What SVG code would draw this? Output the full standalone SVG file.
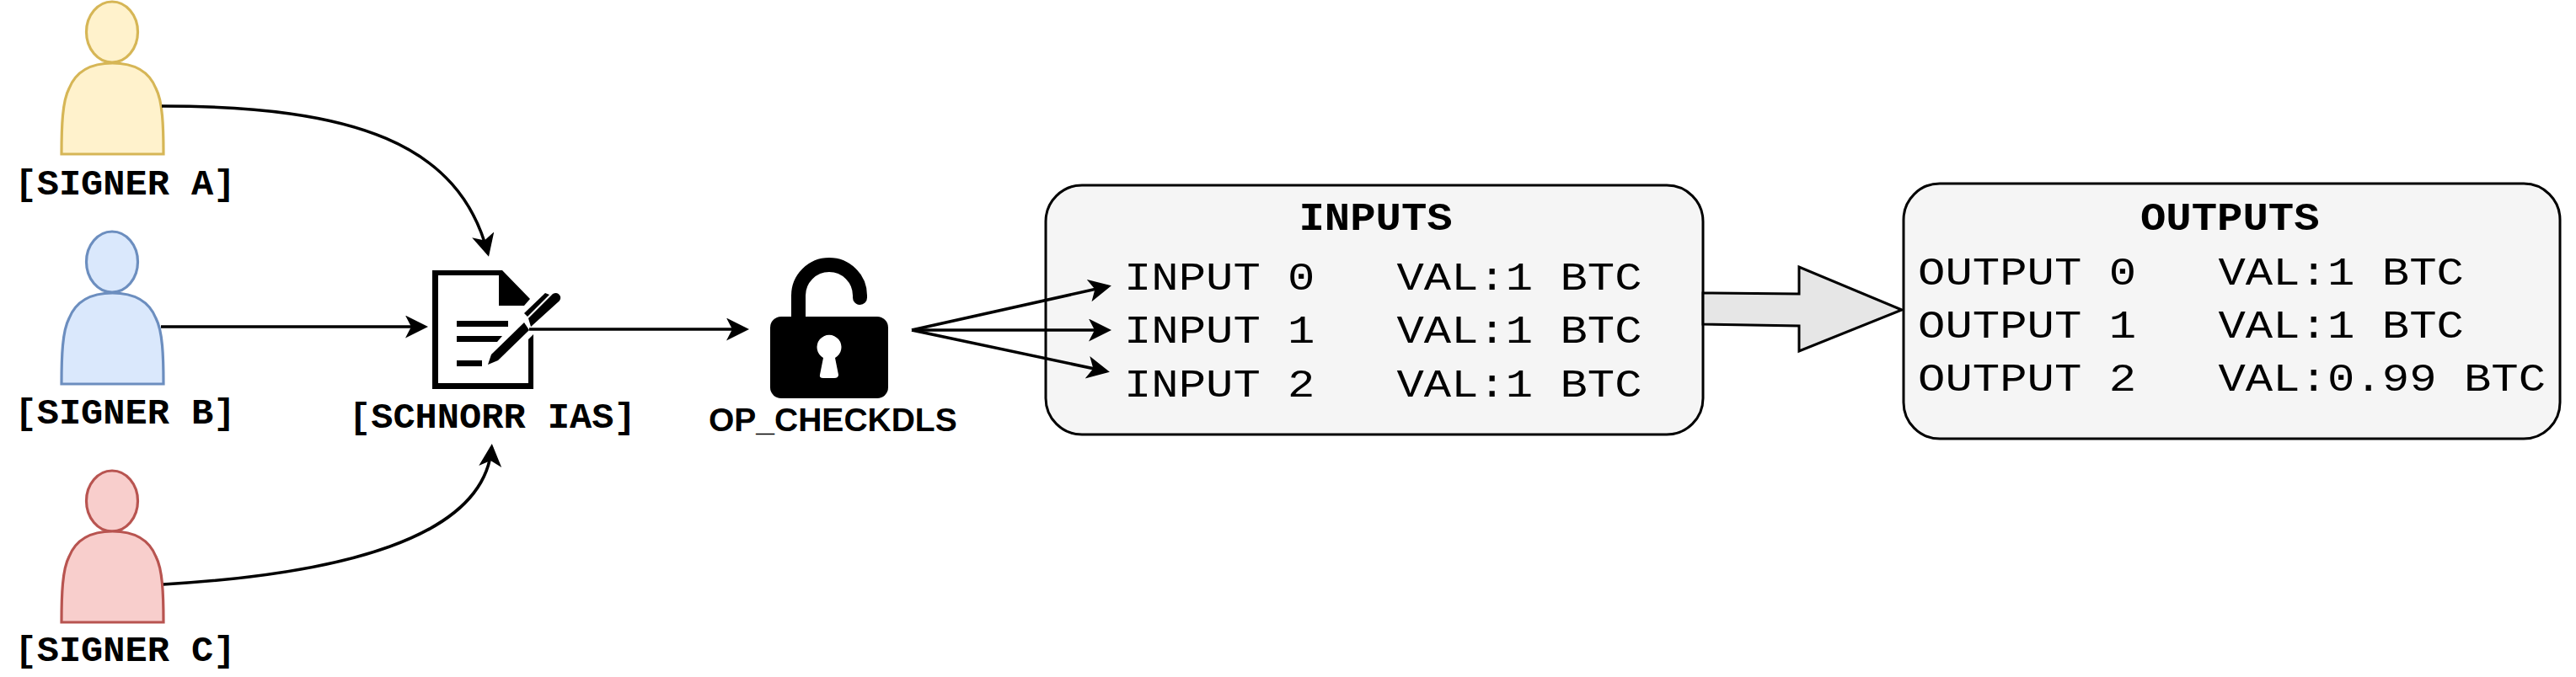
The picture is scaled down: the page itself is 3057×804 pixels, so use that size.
<svg xmlns="http://www.w3.org/2000/svg" width="3057" height="804" viewBox="0 0 3057 804">
<style>
text{fill:#000;white-space:pre}
.b{font-family:"Liberation Mono","Courier New",monospace;font-weight:700;font-size:42px}
.t{font-family:"Liberation Mono","Courier New",monospace;font-weight:700;font-size:46px}
.m{font-family:"Liberation Mono","Courier New",monospace;font-size:47px}
.s{font-family:"Liberation Sans",Arial,sans-serif;font-weight:700;font-size:39px}
.box{fill:#f5f5f5;stroke:#000;stroke-width:3}
.c{fill:none;stroke:#000;stroke-width:3.5;marker-end:url(#ah)}
.p{stroke-width:3.2}
.y{fill:#fff2cc;stroke:#d6b656}
.bl{fill:#dae8fc;stroke:#6c8ebf}
.r{fill:#f8cecc;stroke:#b85450}
</style>
<defs>
<marker id="ah" markerUnits="userSpaceOnUse" markerWidth="30" markerHeight="30" refX="23" refY="13.5" orient="auto">
<path d="M0 0L27 13.5L0 27L7 13.5Z" fill="#000"/>
</marker>
<path id="body" d="M0 108C0 75 1 45 9 30C17 10 35 0 60.500 0C86 0 104 10 112 30C120 45 121 75 121 108Z"/>
</defs>
<g id="signer-a">
<ellipse class="p y" cx="133" cy="38" rx="30.500" ry="36"/>
<use href="#body" class="p y" x="73" y="75"/>
<text class="b" transform="translate(17.500 231) scale(1.04 1)">[SIGNER A]</text>
</g>
<g id="signer-b">
<ellipse class="p bl" cx="133" cy="311" rx="30.500" ry="36"/>
<use href="#body" class="p bl" x="73" y="348"/>
<text class="b" transform="translate(17.500 503) scale(1.04 1)">[SIGNER B]</text>
</g>
<g id="signer-c">
<ellipse class="p r" cx="133" cy="595" rx="30.500" ry="36"/>
<use href="#body" class="p r" x="73" y="631"/>
<text class="b" transform="translate(17.500 785) scale(1.04 1)">[SIGNER C]</text>
</g>
<g id="schnorr">
<path d="M516 324H596L630 358V459H516Z" fill="#fff" stroke="none"/>
<path d="M513 321H596L629 355L622 363H592V327H520V455H627V403L633 397V462H513Z" fill="#000"/>
<path d="M542 381H603V388H542ZM542 399H596L590 406H542ZM542 428H572V435H542Z" fill="#000"/>
<path d="M579 433L583 421L622 383L628 392L591 428Z" fill="#000"/>
<path d="M627 378L656 349Q662 346 665 352Q666 356 662 359L630 388Z" fill="#000"/>
<path d="M622 372L647 348L652 350L626 376Z" fill="#000"/>
<text class="b" transform="translate(414 508) scale(1.04 1)">[SCHNORR IAS]</text>
</g>
<g id="op-checkdls">
<path d="M947.500 380V351A36.500 36.500 0 0 1 1020.500 351V353.500" fill="none" stroke="#000" stroke-width="17" stroke-linecap="round"/>
<rect x="914" y="376" width="140" height="97" rx="13" fill="#000"/>
<path d="M977 425A14.500 14.500 0 1 1 991 425L995 445Q995 449 990 449H977Q972 449 973 445Z" fill="#fff"/>
<text class="s" x="841" y="512">OP_CHECKDLS</text>
</g>
<g id="inputs">
<rect class="box" x="1241" y="220" width="780" height="296" rx="43" ry="43"/>
<text class="t" transform="translate(1541.500 273) scale(1.1 1)">INPUTS</text>
<text class="m" transform="translate(1334 344) scale(1.147 1)">INPUT 0   VAL:1 BTC</text>
<text class="m" transform="translate(1334 407) scale(1.147 1)">INPUT 1   VAL:1 BTC</text>
<text class="m" transform="translate(1334 471) scale(1.147 1)">INPUT 2   VAL:1 BTC</text>
</g>
<g id="flow-arrow">
<path d="M2021 348L2135 349V317L2257 368L2135 417V387L2021 385Z" fill="#e6e6e6" stroke="#000" stroke-width="3"/>
</g>
<g id="outputs">
<rect class="box" x="2259" y="218" width="779" height="303" rx="43" ry="43"/>
<text class="t" transform="translate(2540 273) scale(1.1 1)">OUTPUTS</text>
<text class="m" transform="translate(2276 338) scale(1.149 1)">OUTPUT 0   VAL:1 BTC</text>
<text class="m" transform="translate(2276 401) scale(1.149 1)">OUTPUT 1   VAL:1 BTC</text>
<text class="m" transform="translate(2276 464) scale(1.149 1)">OUTPUT 2   VAL:0.99 BTC</text>
</g>
<g id="connectors">
<path class="c" d="M192 126C420 126 545 170 579 301"/>
<path class="c" d="M191 388H504"/>
<path class="c" d="M194 694C400 682 575 640 583.500 531"/>
<path class="c" d="M628 391H885"/>
<path class="c" d="M1082 392L1315 340"/>
<path class="c" d="M1082 392H1315"/>
<path class="c" d="M1082 392L1313 441"/>
</g>
</svg>
